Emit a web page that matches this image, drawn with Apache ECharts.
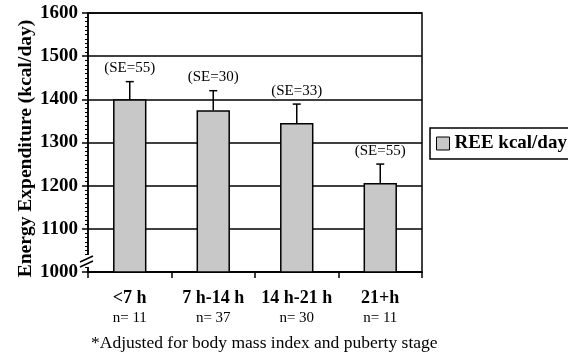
<!DOCTYPE html>
<html><head><meta charset="utf-8">
<script src="https://cdn.jsdelivr.net/npm/echarts@6/dist/echarts.min.js"></script>
<style>html,body{margin:0;padding:0;background:#fff}#c{width:568px;height:362px}</style>
</head><body><div id="c"></div>
<script>
var categories = ['<7 h', '7 h-14 h', '14 h-21 h', '21+h'];
var groupN = ['n= 11', 'n= 37', 'n= 30', 'n= 11'];
var reeValues = [1400, 1375, 1345, 1206];
var errorTops = [1441, 1420, 1389, 1250];
var seLabels = ['(SE=55)', '(SE=30)', '(SE=33)', '(SE=55)'];
var yTicks = [1000, 1100, 1200, 1300, 1400, 1500, 1600];
var footnote = '*Adjusted for body mass index and puberty stage';

var serif = 'Liberation Serif, Times New Roman, serif';
var chart = echarts.init(document.getElementById('c'));
chart.setOption({
  animation: false,
  grid: {left: 88, right: 146, top: 13, bottom: 90, outerBoundsMode: 'none', containLabel: false,
    show: true, borderColor: '#000', borderWidth: 1.5, backgroundColor: 'transparent'},
  legend: {
    data: ['REE kcal/day'], left: 430, top: 128, orient: 'vertical',
    borderColor: '#000', borderWidth: 1.5, padding: [6, 6, 6, 6],
    itemWidth: 13, itemHeight: 13, itemGap: 4, icon: 'rect',
    itemStyle: {borderColor: '#000', borderWidth: 1},
    textStyle: {fontFamily: serif, fontWeight: 'bold', fontSize: 19, color: '#000'}
  },
  xAxis: {
    type: 'category', data: categories,
    axisLine: {lineStyle: {color: '#000', width: 1.5}},
    axisTick: {show: true, length: 6, lineStyle: {color: '#000', width: 1.5}},
    axisLabel: {
      interval: 0, margin: 16, lineHeight: 20,
      formatter: function (v, i) { return '{b|' + v + '}\n{n|' + groupN[i] + '}'; },
      rich: {
        b: {fontFamily: serif, fontWeight: 'bold', fontSize: 18, color: '#000', lineHeight: 20},
        n: {fontFamily: serif, fontSize: 15, color: '#000', lineHeight: 20}
      }
    }
  },
  yAxis: {
    type: 'value', min: yTicks[0], max: yTicks[yTicks.length - 1], interval: 100,
    name: 'Energy Expenditure (kcal/day)', nameLocation: 'middle', nameGap: 52, nameMoveOverlap: false,
    nameTextStyle: {fontFamily: serif, fontWeight: 'bold', fontSize: 19.5, color: '#000', padding: [0, 12, 0, 0]},
    axisLine: {show: true, lineStyle: {color: '#000', width: 1.5}},
    axisTick: {show: true, length: 6, lineStyle: {color: '#000', width: 1.5}},
    minorTick: {show: true, splitNumber: 10, length: 3, lineStyle: {color: '#000', width: 1}},
    splitLine: {show: true, lineStyle: {color: '#000', width: 1.5}},
    axisLabel: {margin: 10, fontFamily: serif, fontWeight: 'bold', fontSize: 19, color: '#000',
      formatter: function (v) { return String(v); }}
  },
  series: [
    {
      name: 'REE kcal/day', type: 'bar', data: reeValues, barWidth: '40%',
      itemStyle: {color: '#c8c8c8', borderColor: '#000', borderWidth: 1.5}
    },
    {
      type: 'custom', name: 'err', z: 5,
      data: reeValues.map(function (v, i) { return [i, v, errorTops[i]]; }),
      renderItem: function (params, api) {
        var i = api.value(0);
        var p0 = api.coord([i, api.value(1)]);
        var p1 = api.coord([i, api.value(2)]);
        return {
          type: 'group', children: [
            {type: 'line', shape: {x1: p0[0], y1: p0[1], x2: p1[0], y2: p1[1]}, style: {stroke: '#000', lineWidth: 1.5}},
            {type: 'line', shape: {x1: p1[0] - 4, y1: p1[1], x2: p1[0] + 4, y2: p1[1]}, style: {stroke: '#000', lineWidth: 1.5}},
            {type: 'text', x: p1[0], y: p1[1] - 6, style: {text: seLabels[i], fontFamily: serif, fontSize: 15, fill: '#000', align: 'center', verticalAlign: 'bottom'}}
          ]
        };
      }
    }
  ],
  graphic: [
    {type: 'rect', shape: {x: 80, y: 255, width: 14, height: 12}, style: {fill: '#fff'}, z: 100},
    {type: 'polyline', shape: {points: [[80, 262], [93, 256]]}, style: {stroke: '#000', lineWidth: 1.5}, z: 101},
    {type: 'polyline', shape: {points: [[80, 267], [93, 261]]}, style: {stroke: '#000', lineWidth: 1.5}, z: 101},
    {type: 'text', left: 91, top: 334, style: {text: footnote, fontFamily: serif, fontSize: 17.5, fill: '#000'}}
  ]
});
</script></body></html>
